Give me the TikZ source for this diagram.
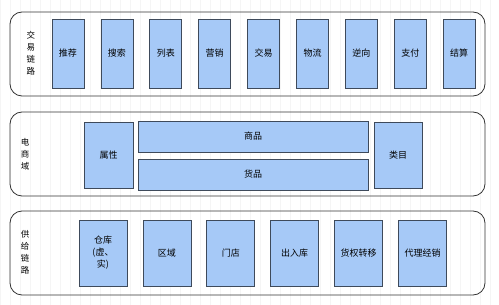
\documentclass[tikz,border=0pt]{standalone}
\usepackage{fontspec}
\setmainfont{Noto Sans CJK SC}
\usetikzlibrary{positioning}
\definecolor{boxblue}{HTML}{A6C9F7}
\definecolor{boxline}{HTML}{3E4A5B}

\begin{document}
\begin{tikzpicture}[x=1pt,y=-1pt,font=\fontsize{9}{12}\selectfont,
  lane/.style={draw=black!80,line width=.8pt,rounded corners=12pt,inner sep=0},
  blk/.style={draw=boxline,fill=boxblue,line width=.7pt,inner sep=0,align=center},
  side/.style={align=center,font=\fontsize{8.5}{12}\selectfont}]
 \useasboundingbox (0,0) rectangle (499,305);
 \draw[black!4,step=10] (0,0) grid (499,305);
 % three lanes
 \node[lane,minimum width=475,minimum height=84] (trade) at (247.5,54) {};
 \node[lane,minimum width=475,minimum height=84] (mall) at (247.5,154) {};
 \node[lane,minimum width=475,minimum height=84] (supply) at (247.5,253) {};
 \node[side] (tradelbl) at (31,53) {交\\易\\链\\路};
 \node[side] (malllbl) at (25,154) {电\\商\\域};
 \node[side] (supplylbl) at (25,252) {供\\给\\链\\路};
 % trade chain
 \foreach \t [count=\i] in {推荐,搜索,列表,营销,交易,物流,逆向,支付,结算}
   \node[blk,minimum width=32,minimum height=69] (t\i) at ({68+48.9*(\i-1)},53.5) {\t};
 % mall domain
 \node[blk,minimum width=49,minimum height=66] (attr) at (108.5,155) {属性};
 \node[blk,minimum width=230,minimum height=31] (spu) at (253,136.5) {商品};
 \node[blk,minimum width=230,minimum height=31] (sku) at (253,174.5) {货品};
 \node[blk,minimum width=48,minimum height=66] (cate) at (398,155) {类目};
 % supply chain
 \foreach \t [count=\i] in {{仓库\\(虚、\\实)},区域,门店,出入库,货权转移,代理经销}
   \node[blk,minimum width=48,minimum height=66] (s\i) at ({103+63.9*(\i-1)},253) {\t};
\end{tikzpicture}
\end{document}
